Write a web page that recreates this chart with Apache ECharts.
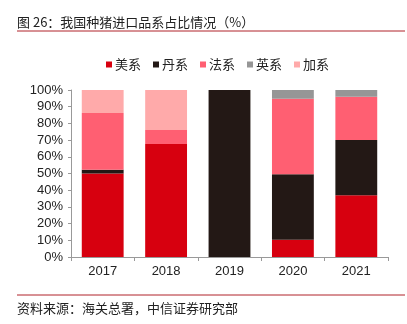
<!DOCTYPE html>
<html><head><meta charset="utf-8">
<script src="https://cdn.jsdelivr.net/npm/echarts@6/dist/echarts.min.js"></script>
<style>html,body{margin:0;padding:0;background:#fff}#c{width:407px;height:324px}</style>
</head><body><div id="c"></div>
<script>
const categories = ['2017','2018','2019','2020','2021'];
const seriesNames = ['美系','丹系','法系','英系','加系'];
const meiXi = [50, 67.6, 0, 10.4, 37];
const danXi = [2.3, 0, 100, 39.2, 33];
const faXi  = [34, 8.4, 0, 45.2, 26];
const yingXi = [0, 0, 0, 5.2, 4];
const jiaXi = [13.7, 24, 0, 0, 0];
const yTicks = [0,10,20,30,40,50,60,70,80,90,100];
const colors = ['#d7000f','#231815','#ff5f72','#969696','#ffaaaa'];
const values = [meiXi, danXi, faXi, yingXi, jiaXi];

const cjk = '"Noto Sans CJK SC", sans-serif';
const chart = echarts.init(document.getElementById('c'));
chart.setOption({
  animation: false,
  color: colors,
  graphic: [
    {type:'text', left:17, top:16, style:{text:'图 26：我国种猪进口品系占比情况（%）', font:'13px "Noto Sans CJK SC"', fill:'#222'}},
    {type:'line', shape:{x1:17,y1:31,x2:405,y2:31}, style:{stroke:'#b0222a', lineWidth:1}},
    {type:'line', shape:{x1:17,y1:295,x2:405,y2:295}, style:{stroke:'#b0222a', lineWidth:1}},
    {type:'text', left:17, top:302, style:{text:'资料来源：海关总署，中信证券研究部', font:'13px "Noto Sans CJK SC"', fill:'#222'}}
  ],
  legend: {
    top: 53, left: 101,
    itemWidth: 6, itemHeight: 6, itemGap: 12,
    icon: 'rect',
    textStyle: {fontFamily: cjk, fontSize: 13, color:'#222', padding:[0,0,0,-2]},
    data: seriesNames
  },
  grid: {left: 71, right: 19, top: 90, bottom: 67, containLabel: false},
  xAxis: {
    type: 'category', data: categories,
    axisLine: {lineStyle: {color:'#999'}},
    axisTick: {show: true, length: 4, lineStyle:{color:'#999'}},
    axisLabel: {color:'#222', fontFamily:'"Liberation Sans", Arial', fontSize: 13, margin: 8}
  },
  yAxis: {
    type: 'value', min: 0, max: 100, interval: 10,
    axisLine: {show: true, lineStyle: {color:'#999'}},
    axisTick: {show: true, length: 3, lineStyle:{color:'#999'}},
    splitLine: {show: false},
    axisLabel: {color:'#222', fontFamily:'"Liberation Sans", Arial', fontSize: 13, margin: 8,
      formatter: v => yTicks.includes(v) ? v + '%' : ''}
  },
  series: seriesNames.map((n,i) => ({
    name: n, type: 'bar', stack: 'total', barWidth: '66%',
    data: values[i]
  }))
});
</script></body></html>
